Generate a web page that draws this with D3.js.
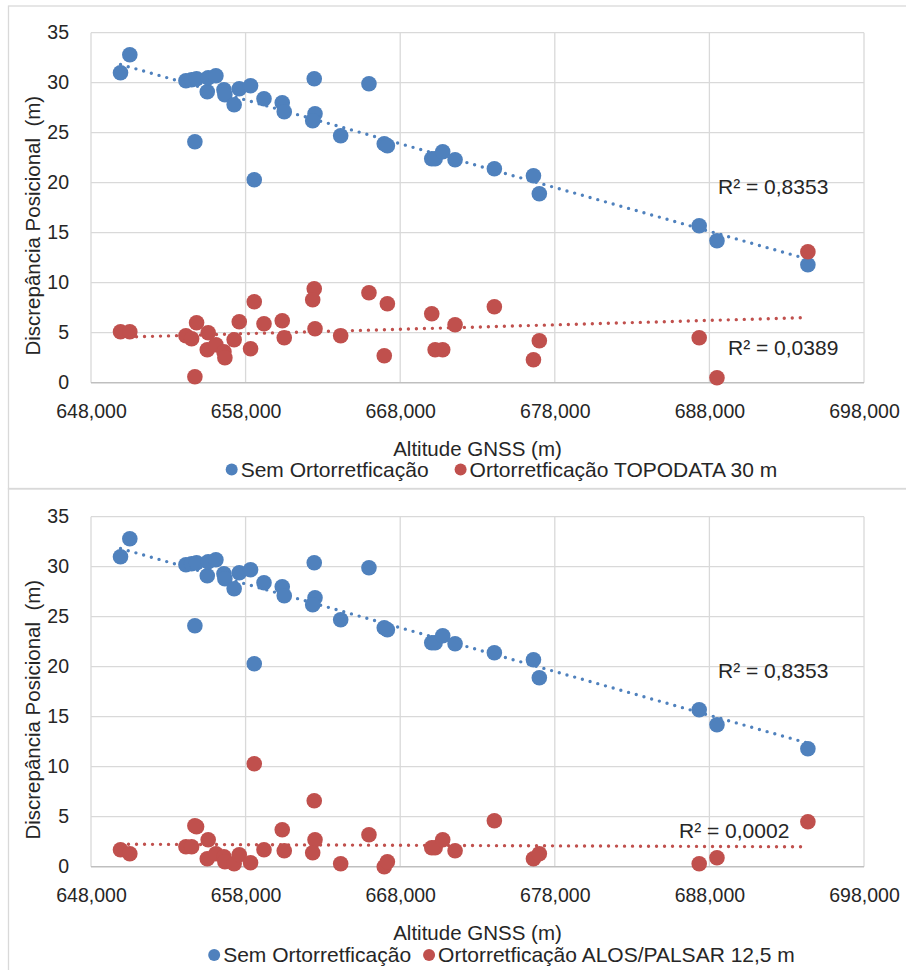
<!DOCTYPE html>
<html><head><meta charset="utf-8">
<script src="https://cdn.jsdelivr.net/npm/d3@7"></script>
<style>
body{margin:0;background:#fff}
text{font-family:"Liberation Sans",Arial,sans-serif;fill:#262626}
</style>
</head><body>
<svg id="c" width="906" height="970"></svg>
<script>
// ---- data ----
const altitudes = [649910, 650510, 654140, 654510, 654830, 654720, 655520, 655580, 656080, 656600,
  656660, 657260, 657590, 658320, 658560, 659190, 660370, 660500, 662440, 662490,
  662340, 664150, 665980, 666970, 667170, 670040, 670260, 670750, 671550, 674090,
  676620, 677000, 687340, 688490, 694370];
const semOrto = [31.0, 32.8, 30.2, 30.3, 30.4, 24.1, 29.1, 30.5, 30.7, 29.3,
  28.8, 27.8, 29.4, 29.7, 20.3, 28.4, 28.0, 27.1, 30.4, 26.9,
  26.2, 24.7, 29.9, 23.9, 23.7, 22.4, 22.4, 23.1, 22.3, 21.4,
  20.7, 18.9, 15.7, 14.2, 11.8];
const topodata = [5.1, 5.1, 4.7, 4.4, 6.0, 0.6, 3.3, 5.0, 3.8, 3.1,
  2.5, 4.3, 6.1, 3.4, 8.1, 5.9, 6.2, 4.5, 9.4, 5.4,
  8.3, 4.7, 9.0, 2.7, 7.9, 6.9, 3.3, 3.3, 5.8, 7.6,
  2.3, 4.2, 4.5, 0.5, 13.1];
const alos = [1.7, 1.3, 2.0, 2.0, 4.0, 4.1, 0.8, 2.7, 1.3, 1.0,
  0.5, 0.3, 1.2, 0.4, 10.3, 1.7, 3.7, 1.6, 6.6, 2.7,
  1.4, 0.3, 3.2, 0.0, 0.5, 1.9, 1.9, 2.7, 1.6, 4.6,
  0.8, 1.3, 0.3, 0.9, 4.5];
const xTicks = [648000, 658000, 668000, 678000, 688000, 698000];
const yTicks = [0, 5, 10, 15, 20, 25, 30, 35];
const seriesNames = ["Sem Ortorretficação", "Ortorretficação TOPODATA 30 m", "Ortorretficação ALOS/PALSAR 12,5 m"];
const r2Top = ["R² = 0,8353", "R² = 0,0389"];
const r2Bottom = ["R² = 0,8353", "R² = 0,0002"];
const xTitle = "Altitude GNSS (m)";
const yTitle = "Discrepância Posicional  (m)";

// ---- layout ----
const BLUE = "#4F81BD", RED = "#C0504D";
const FONT = '"Liberation Sans",Arial,sans-serif';
const svg = d3.select("#c");
const plotLeft = 91, plotRight = 864, plotH = 350;
const x = d3.scaleLinear().domain([648000, 698000]).range([plotLeft, plotRight]);

function linreg(xs, ys) {
  const n = xs.length, mx = d3.mean(xs), my = d3.mean(ys);
  let sxy = 0, sxx = 0;
  for (let i = 0; i < n; i++) { sxy += (xs[i]-mx)*(ys[i]-my); sxx += (xs[i]-mx)**2; }
  const b = sxy / sxx; return v => my + b*(v - mx);
}

function panel(cfg) {
  const g = svg.append("g");
  g.append("rect").attr("x", 8.5).attr("y", cfg.frameTop + 0.5).attr("width", 1000).attr("height", cfg.frameH)
    .attr("fill", "none").attr("stroke", "#D9D9D9").attr("stroke-width", 1.3);
  const y = d3.scaleLinear().domain([0, 35]).range([cfg.plotTop + plotH, cfg.plotTop]);
  g.append("g").selectAll("line").data(yTicks.filter(d => d > 0)).join("line")
    .attr("x1", plotLeft).attr("x2", plotRight).attr("y1", d => y(d)).attr("y2", d => y(d))
    .attr("stroke", "#D9D9D9").attr("stroke-width", 1.3);
  g.append("g").selectAll("line").data(xTicks).join("line")
    .attr("x1", d => x(d)).attr("x2", d => x(d)).attr("y1", y(0)).attr("y2", y(35))
    .attr("stroke", "#D9D9D9").attr("stroke-width", 1.3);
  g.append("line").attr("x1", plotLeft).attr("x2", plotRight).attr("y1", y(0)).attr("y2", y(0))
    .attr("stroke", "#BFBFBF").attr("stroke-width", 1.5);
  const xa = g.append("g").attr("transform", `translate(0,${y(0)})`)
    .call(d3.axisBottom(x).tickValues(xTicks).tickFormat(d3.format(",")).tickSize(0).tickPadding(21));
  xa.select(".domain").remove();
  xa.selectAll("text").attr("font-size", 19.5).attr("fill", "#262626").attr("font-family", FONT);
  const ya = g.append("g").attr("transform", `translate(${plotLeft},0)`)
    .call(d3.axisLeft(y).tickValues(yTicks).tickSize(0).tickPadding(22));
  ya.select(".domain").remove();
  ya.selectAll("text").attr("font-size", 19.5).attr("fill", "#262626").attr("font-family", FONT);
  g.append("text").attr("x", (plotLeft + plotRight)/2).attr("y", y(0) + 73).attr("text-anchor", "middle")
    .attr("font-size", 20.5).text(xTitle);
  g.append("text").attr("transform", `translate(40,${cfg.plotTop + 193}) rotate(-90)`).attr("text-anchor", "middle")
    .attr("font-size", 20.5).style("white-space", "pre").text(yTitle);
  const xmin = d3.min(altitudes), xmax = d3.max(altitudes);
  [[semOrto, BLUE], [cfg.red, RED]].forEach(([ys, col]) => {
    const f = linreg(altitudes, ys);
    g.append("line").attr("x1", x(xmin)).attr("x2", x(xmax)).attr("y1", y(f(xmin))).attr("y2", y(f(xmax)))
      .attr("stroke", col).attr("stroke-width", 3.4).attr("stroke-linecap", "round").attr("stroke-dasharray", "0 8");
  });
  g.append("g").selectAll("circle").data(altitudes).join("circle")
    .attr("cx", d => x(d)).attr("cy", (d, i) => y(semOrto[i])).attr("r", 7.8).attr("fill", BLUE);
  g.append("g").selectAll("circle").data(altitudes).join("circle")
    .attr("cx", d => x(d)).attr("cy", (d, i) => y(cfg.red[i])).attr("r", 7.8).attr("fill", RED);
  g.append("text").attr("x", 718).attr("y", cfg.plotTop + 161).attr("font-size", 21).text(cfg.r2[0]);
  g.append("text").attr("x", cfg.r2RedX).attr("y", cfg.plotTop + cfg.r2RedDy).attr("font-size", 21).text(cfg.r2[1]);
  const lg = g.append("g").attr("transform", `translate(0,${cfg.legendY})`);
  const items = [[seriesNames[0], BLUE], [cfg.redName, RED]];
  const parts = items.map(([t, c]) => {
    const gi = lg.append("g");
    gi.append("circle").attr("cx", 6).attr("cy", 0).attr("r", 6).attr("fill", c);
    const tx = gi.append("text").attr("x", 15).attr("y", 7.4).attr("font-size", 21).text(t);
    const w = 15 + tx.node().getComputedTextLength();
    return [gi, w];
  });
  const gap = cfg.legendGap;
  const total = parts[0][1] + gap + parts[1][1];
  let start = 501.5 - total/2;
  parts.forEach(([gi, w]) => { gi.attr("transform", `translate(${start},0)`); start += w + gap; });
}

panel({frameTop: 5.5, frameH: 483, plotTop: 32.7, red: topodata, r2: r2Top, r2RedX: 728, r2RedDy: 322,
  legendY: 469.5, redName: seriesNames[1], legendGap: 26});
panel({frameTop: 488, frameH: 500, plotTop: 516.7, red: alos, r2: r2Bottom, r2RedX: 679, r2RedDy: 321,
  legendY: 955, redName: seriesNames[2], legendGap: 12});
</script>
</body></html>
